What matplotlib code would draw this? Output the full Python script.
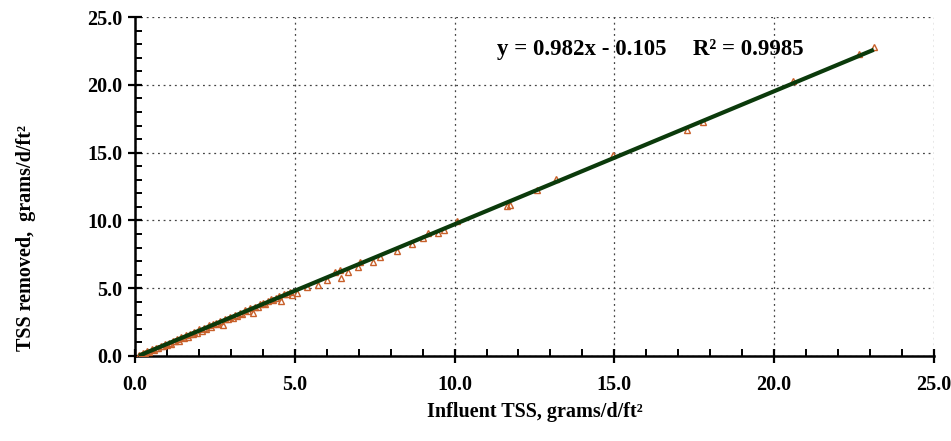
import numpy as np
import matplotlib
matplotlib.use("Agg")
import matplotlib.pyplot as plt
from matplotlib.ticker import MultipleLocator, FormatStrFormatter

# influent TSS (x) and TSS removed (y), grams/d/ft2
influent = [0.12, 0.18, 0.25, 0.31, 0.38, 0.45, 0.52, 0.58, 0.66, 0.72,
            0.80, 0.86, 0.93, 1.00, 1.06, 1.12, 1.18, 1.25, 1.31, 1.38,
            1.45, 1.52, 1.58, 1.65, 1.72, 1.80, 1.86, 1.93, 2.01, 2.08,
            2.15, 2.22, 2.30, 2.37, 2.44, 2.52, 2.60, 2.66, 2.74, 2.82,
            2.90, 2.97, 3.05, 3.12, 3.20, 3.28, 3.36, 3.44, 3.52, 3.60,
            3.68, 3.75, 3.84, 3.92, 4.00, 4.08, 4.16, 4.25, 4.33, 4.42,
            4.50, 4.58, 4.66, 4.75, 4.85, 4.92, 5.07, 5.38, 5.73, 6.00,
            6.26, 6.41, 6.44, 6.67, 6.98, 7.04, 7.45, 7.67, 8.20, 8.67,
            9.00, 9.17, 9.48, 9.67, 10.07, 11.64, 11.75, 12.58, 13.17, 14.96,
            17.27, 17.77, 20.60, 22.65, 23.12]
removed = [0.05, 0.10, 0.22, 0.18, 0.35, 0.30, 0.48, 0.43, 0.60, 0.55,
           0.74, 0.70, 0.88, 0.79, 0.98, 0.85, 1.12, 1.08, 1.26, 1.10,
           1.38, 1.34, 1.52, 1.40, 1.65, 1.60, 1.80, 1.70, 1.95, 1.85,
           2.08, 2.00, 2.25, 2.12, 2.36, 2.45, 2.38, 2.60, 2.30, 2.72,
           2.70, 2.90, 2.82, 3.05, 2.95, 3.20, 3.10, 3.36, 3.28, 3.52,
           3.15, 3.62, 3.58, 3.82, 3.90, 3.85, 4.05, 4.20, 4.10, 4.30,
           4.40, 4.05, 4.55, 4.60, 4.70, 4.50, 4.65, 5.10, 5.24, 5.60,
           6.20, 6.34, 5.75, 6.20, 6.56, 6.93, 6.93, 7.30, 7.74, 8.26,
           8.70, 9.07, 9.07, 9.30, 9.96, 11.10, 11.15, 12.25, 13.05, 14.80,
           16.70, 17.30, 20.30, 22.27, 22.80]

slope = 0.982
intercept = -0.105

plt.rcParams['font.family'] = ['Liberation Serif', 'DejaVu Serif']
plt.rcParams['font.weight'] = 'bold'

fig = plt.figure(figsize=(9.51, 4.41), dpi=100)
ax = fig.add_axes([0.142, 0.193, 0.840, 0.768])

ax.plot(influent, removed, linestyle='', marker='^', markersize=4.2,
        markerfacecolor='none', markeredgecolor='#c8602a', markeredgewidth=1.0, zorder=3)

xfit = np.array([min(influent), max(influent)])
ax.plot(xfit, slope * xfit + intercept, color='#0b3a0b', linewidth=3.0, zorder=4,
        solid_capstyle='butt')

ax.set_xlim(0, 25)
ax.set_ylim(0, 25)
ax.xaxis.set_major_locator(MultipleLocator(5))
ax.yaxis.set_major_locator(MultipleLocator(5))
ax.xaxis.set_minor_locator(MultipleLocator(1))
ax.yaxis.set_minor_locator(MultipleLocator(1))
ax.xaxis.set_major_formatter(FormatStrFormatter('%.1f'))
ax.yaxis.set_major_formatter(FormatStrFormatter('%.1f'))

ax.grid(True, which='major', linestyle=(0, (1.5, 3)), color='#444444', linewidth=0.9)
ax.set_axisbelow(True)

for s in ['top', 'right']:
    ax.spines[s].set_visible(False)
for s in ['left', 'bottom']:
    ax.spines[s].set_linewidth(1.8)

ax.tick_params(axis='both', which='major', direction='inout', length=10, width=1.6)
ax.tick_params(axis='both', which='minor', direction='in', length=5, width=1.4)
ax.tick_params(axis='x', which='major', pad=9)
ax.tick_params(axis='y', which='major', pad=4)
for lab in ax.get_xticklabels() + ax.get_yticklabels():
    lab.set_fontweight('bold')
    lab.set_fontsize(14.5)

ax.set_xlabel('Influent TSS, grams/d/ft²', fontweight='bold', fontsize=14.5, labelpad=5)
fig.text(0.027, 0.46, 'TSS removed,  grams/d/ft²', rotation=90, ha='center', va='center',
         fontweight='bold', fontsize=14.5)

ax.text(11.33, 22.6, 'y = 0.982x - 0.105', fontweight='bold', fontsize=16.5,
        va='center', ha='left')
ax.text(17.46, 22.6, 'R² = 0.9985', fontweight='bold', fontsize=16.5,
        va='center', ha='left')

fig.savefig('out.png', dpi=100)
